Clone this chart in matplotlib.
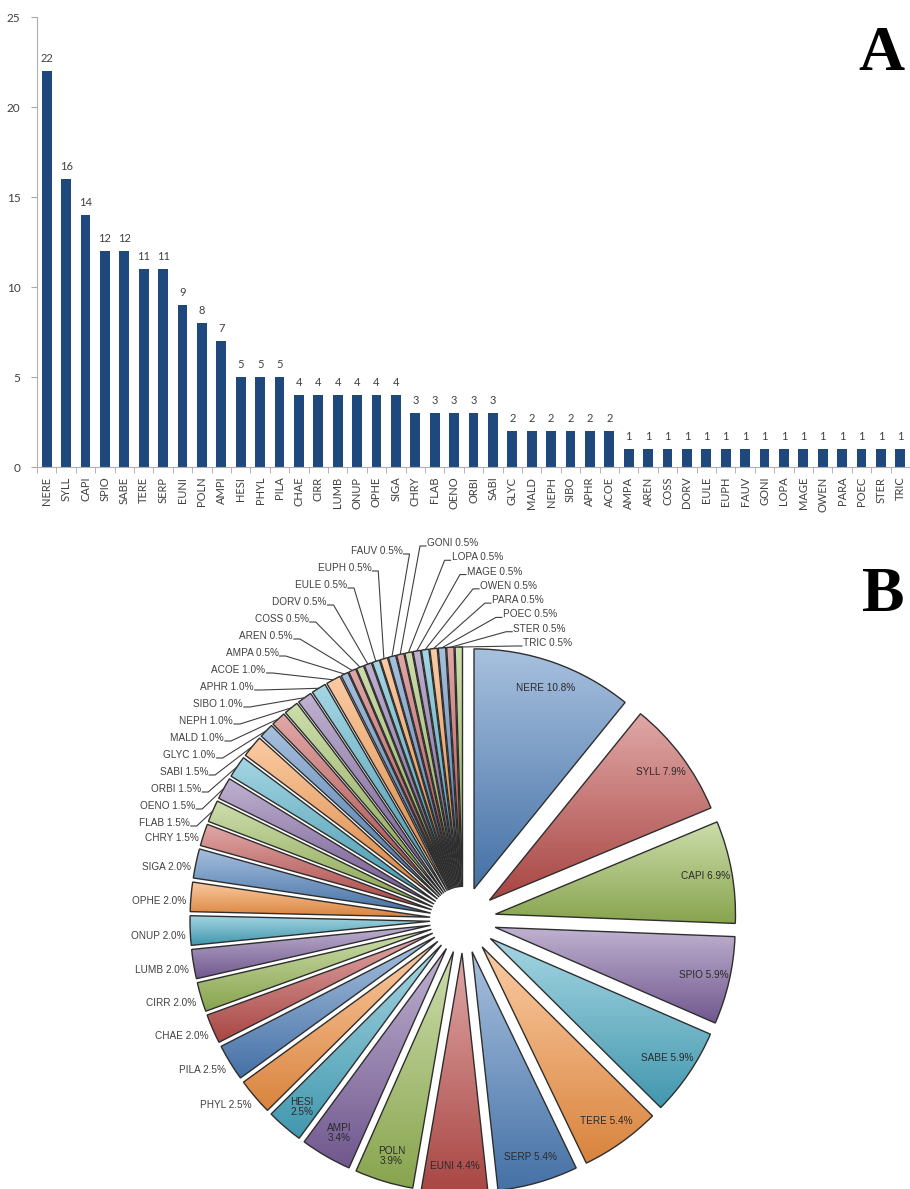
import numpy as np
import matplotlib
matplotlib.use('Agg')
import matplotlib.pyplot as plt
from matplotlib.colors import to_rgb

# ---------------- data ----------------
taxa = ['NERE', 'SYLL', 'CAPI', 'SPIO', 'SABE', 'TERE', 'SERP', 'EUNI', 'POLN', 'AMPI',
        'HESI', 'PHYL', 'PILA', 'CHAE', 'CIRR', 'LUMB', 'ONUP', 'OPHE', 'SIGA',
        'CHRY', 'FLAB', 'OENO', 'ORBI', 'SABI', 'GLYC', 'MALD', 'NEPH', 'SIBO', 'APHR', 'ACOE',
        'AMPA', 'AREN', 'COSS', 'DORV', 'EULE', 'EUPH', 'FAUV', 'GONI', 'LOPA', 'MAGE',
        'OWEN', 'PARA', 'POEC', 'STER', 'TRIC']
counts = [22, 16, 14, 12, 12, 11, 11, 9, 8, 7,
          5, 5, 5, 4, 4, 4, 4, 4, 4,
          3, 3, 3, 3, 3, 2, 2, 2, 2, 2, 2,
          1, 1, 1, 1, 1, 1, 1, 1, 1, 1,
          1, 1, 1, 1, 1]
y_ticks = [0, 5, 10, 15, 20, 25]
pie_palette = ['#4F81BD', '#C0504D', '#9BBB59', '#8064A2', '#4BACC6', '#F79646']

plt.rcParams['font.family'] = ['Lato', 'DejaVu Sans']

W, H = 910, 1189
fig = plt.figure(figsize=(W / 100, H / 100), dpi=100)

# ---------------- panel A: bar chart ----------------
axb = fig.add_axes([37 / W, 1 - 467 / H, 873 / W, 450 / H])
xpos = np.arange(len(taxa))
bars = axb.bar(xpos, counts, width=0.5, color='#1F497D', zorder=2)
axb.set_xlim(-0.5, len(taxa) - 0.5)
axb.set_ylim(0, 25)
axb.set_yticks(y_ticks)
axb.set_xticks(xpos)
axb.set_xticklabels(taxa, rotation=90, fontsize=8, color='#404040')
axb.set_xticks(np.arange(len(taxa) + 1) - 0.5, minor=True)
axb.tick_params(axis='x', which='major', length=0, pad=7)
axb.tick_params(axis='x', which='minor', length=4, color='#A8A8A8')
axb.tick_params(axis='y', length=4, color='#A8A8A8', labelsize=8.5,
                labelcolor='#404040', pad=8)
for s in ['top', 'right']:
    axb.spines[s].set_visible(False)
for s in ['left', 'bottom']:
    axb.spines[s].set_color('#B0B0B0')
axb.bar_label(bars, padding=5, fontsize=8, color='#404040')

# ---------------- panel B: exploded pie ----------------
R = 240.0
CX, CY = 463.0, 920.0
axp = fig.add_axes([0, 0, 1, 1])
axp.axis('off')


def P(px, py):
    return ((px - CX) / R, (CY - py) / R)


colors = [pie_palette[i % len(pie_palette)] for i in range(len(counts))]
wedges, _ = axp.pie(counts, explode=[0.1375] * len(counts), radius=1.0,
                    center=(0, 0), startangle=90, counterclock=False,
                    colors=colors,
                    wedgeprops=dict(edgecolor='#2E2E2E', linewidth=1.0))

# gradient fill clipped to each wedge
tt = np.linspace(0, 1, 64)[:, None]
for w, col in zip(wedges, colors):
    base = np.array(to_rgb(col))
    bottom = base * 0.88
    top = base + (1 - base) * 0.5
    grad = bottom * (1 - tt) + top * tt
    img = grad[:, None, :]
    ext = w.get_path().get_extents()
    im = axp.imshow(img, extent=[ext.x0, ext.x1, ext.y0, ext.y1], origin='lower',
                    aspect='auto', interpolation='bilinear', zorder=1)
    im.set_clip_path(w)
    w.set_facecolor('none')
    w.set_zorder(2)

total = sum(counts)
pct = [f'{c / total * 100:.1f}%' for c in counts]
lab_font = dict(family=['Liberation Sans', 'DejaVu Sans'], fontsize=7.2)


def mid_dir(w):
    th = np.deg2rad(0.5 * (w.theta1 + w.theta2))
    return np.array([np.cos(th), np.sin(th)])


n_inside = 11      # NERE .. HESI
n_plain = 20       # PHYL .. CHRY : outside, no leader line
left_end = 37      # FLAB .. FAUV : left leader labels
# GONI .. TRIC : right leader labels

for i, w in enumerate(wedges):
    d = mid_dir(w)
    c = np.array(w.center)
    name, pv = taxa[i], pct[i]
    if i < n_inside:
        pos = c + 0.89 * d
        txt = f'{name} {pv}' if counts[i] >= 9 else f'{name}\n{pv}'
        axp.text(pos[0], pos[1], txt, ha='center', va='center', color='#2A2A2A',
                 zorder=4, linespacing=1.0, **lab_font)
    elif i < n_plain:
        pos = c + 1.02 * d
        axp.text(pos[0], pos[1] - 0.02, f'{name} {pv}', ha='right', va='center',
                 color='#404040', zorder=4, **lab_font)

# leader labels on the left
left_idx = list(range(n_plain, left_end))
ys_left = np.linspace(823, 551, len(left_idx))
a_se, b_se, p_se = 290.0, 385.0, 1.7
for k, i in enumerate(left_idx):
    w = wedges[i]
    edge = np.array(w.center) + mid_dir(w)
    py = ys_left[k]
    dy = CY - py
    dx = a_se * (1 - (dy / b_se) ** p_se) ** (1 / p_se)
    px = CX - dx
    tx, ty = P(px, py)
    axp.text(tx, ty, f'{taxa[i]} {pct[i]}', ha='right', va='center',
             color='#404040', zorder=4, **lab_font)
    sx, sy = P(px + 1, py + 3)
    sx2, _ = P(px + 7, py + 3)
    axp.plot([sx, sx2, edge[0]], [sy, sy, edge[1]], color='#404040', lw=0.8,
             zorder=3, clip_on=False)

# leader labels on the right
right_idx = list(range(left_end, len(counts)))
ys_right = np.linspace(543, 643, len(right_idx))
tr = np.linspace(0, 1, len(right_idx)) ** 0.7
xs_right = 427 + 96 * tr
for k, i in enumerate(right_idx):
    w = wedges[i]
    edge = np.array(w.center) + mid_dir(w)
    px, py = xs_right[k], ys_right[k]
    tx, ty = P(px, py)
    axp.text(tx, ty, f'{taxa[i]} {pct[i]}', ha='left', va='center',
             color='#404040', zorder=4, **lab_font)
    sx, sy = P(px - 1, py + 3)
    sx2, _ = P(px - 7, py + 3)
    axp.plot([sx, sx2, edge[0]], [sy, sy, edge[1]], color='#404040', lw=0.8,
             zorder=3, clip_on=False)

x0, y0 = P(0, H)
x1, y1 = P(W, 0)
axp.set_xlim(x0, x1)
axp.set_ylim(y0, y1)
axp.set_aspect('auto')

# panel letters
fig.text(0.994, 1 - 70 / H, 'A', ha='right', va='baseline', fontsize=46,
         fontweight='bold', family='Liberation Serif')
fig.text(0.994, 1 - 611 / H, 'B', ha='right', va='baseline', fontsize=46,
         fontweight='bold', family='Liberation Serif')

fig.savefig('out.png', dpi=100)
